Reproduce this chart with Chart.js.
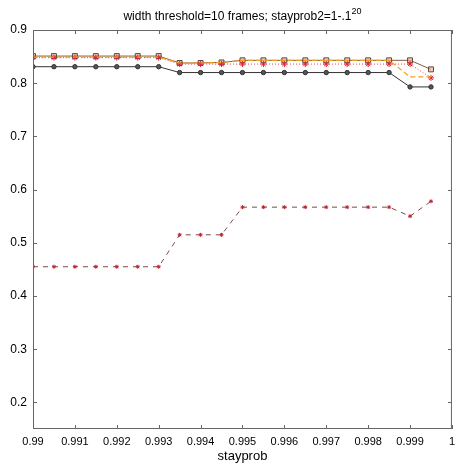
<!DOCTYPE html>
<html>
<head>
<meta charset="utf-8">
<script src="https://cdn.jsdelivr.net/npm/chart.js@4.4.0/dist/chart.umd.min.js"></script>
<style>
  html, body { margin: 0; padding: 0; background: #fff; }
  #wrap { width: 461px; height: 466px; }
</style>
</head>
<body>
<div id="wrap"><canvas id="myChart" width="461" height="466"></canvas></div>
<script>
// stayprob values (x)
var stayprob = [0.99, 0.9905, 0.991, 0.9915, 0.992, 0.9925, 0.993, 0.9935, 0.994, 0.9945,
  0.995, 0.9955, 0.996, 0.9965, 0.997, 0.9975, 0.998, 0.9985, 0.999, 0.9995];

// series
var circSeries = [0.831, 0.831, 0.831, 0.831, 0.831, 0.831, 0.831, 0.82, 0.82, 0.82,
  0.82, 0.82, 0.82, 0.82, 0.82, 0.82, 0.82, 0.82, 0.793, 0.793];
var squareSeries = [0.851, 0.851, 0.851, 0.851, 0.851, 0.851, 0.851, 0.838, 0.838, 0.839,
  0.843, 0.843, 0.843, 0.843, 0.843, 0.843, 0.843, 0.843, 0.843, 0.826];
var orangeSeries = [0.849, 0.849, 0.849, 0.849, 0.849, 0.849, 0.849, 0.838, 0.838, 0.839,
  0.843, 0.843, 0.843, 0.843, 0.843, 0.843, 0.843, 0.843, 0.812, 0.812];
var redSeries = [0.848, 0.848, 0.848, 0.848, 0.848, 0.848, 0.848, 0.836, 0.836, 0.836,
  0.836, 0.836, 0.836, 0.836, 0.836, 0.836, 0.836, 0.836, 0.836, 0.81];
var lowSeries = [0.455, 0.455, 0.455, 0.455, 0.455, 0.455, 0.455, 0.515, 0.515, 0.515,
  0.567, 0.567, 0.567, 0.567, 0.567, 0.567, 0.567, 0.567, 0.55, 0.578];

// tick labels
var xTicks = [0.99, 0.991, 0.992, 0.993, 0.994, 0.995, 0.996, 0.997, 0.998, 0.999, 1];
var yTicks = [0.2, 0.3, 0.4, 0.5, 0.6, 0.7, 0.8, 0.9];

var FONT = "'Liberation Sans Narrow', 'Liberation Sans', Arial, sans-serif";

function pts(ys) {
  return stayprob.map(function (x, i) { return { x: x, y: ys[i] }; });
}

// box round the plot with inward ticks, and the title
var boxPlugin = {
  id: "box",
  afterDraw: function (chart) {
    var ctx = chart.ctx;
    var a = chart.chartArea;
    var xs = chart.scales.x;
    var ys = chart.scales.y;
    ctx.save();
    ctx.strokeStyle = "#666";
    ctx.lineWidth = 1;
    ctx.strokeRect(a.left + 0.5, a.top + 0.5, a.right - a.left - 1, a.bottom - a.top - 1);
    ctx.beginPath();
    xTicks.forEach(function (v) {
      var px = Math.round(xs.getPixelForValue(v)) + 0.5;
      ctx.moveTo(px, a.bottom); ctx.lineTo(px, a.bottom - 4);
      ctx.moveTo(px, a.top); ctx.lineTo(px, a.top + 4);
    });
    yTicks.forEach(function (v) {
      var py = Math.round(ys.getPixelForValue(v)) + 0.5;
      ctx.moveTo(a.left, py); ctx.lineTo(a.left + 4, py);
      ctx.moveTo(a.right, py); ctx.lineTo(a.right - 4, py);
    });
    ctx.stroke();
    // title
    ctx.fillStyle = "#000";
    ctx.textBaseline = "alphabetic";
    ctx.textAlign = "left";
    var t = "width threshold=10 frames; stayprob2=1-.1";
    ctx.font = "12px " + FONT;
    var w = ctx.measureText(t).width;
    ctx.font = "9px " + FONT;
    var w2 = ctx.measureText("20").width;
    var cx = (a.left + a.right) / 2;
    var x0 = cx - (w + w2) / 2;
    ctx.font = "12px " + FONT;
    ctx.fillText(t, x0, 20);
    ctx.font = "9px " + FONT;
    ctx.fillText("20", x0 + w, 14);
    ctx.restore();
  }
};

var ctx = document.getElementById("myChart").getContext("2d");
new Chart(ctx, {
  type: "line",
  data: {
    datasets: [
      {
        label: "low",
        data: pts(lowSeries),
        borderColor: "#7a4a4a",
        borderWidth: 1,
        borderDash: [5, 5],
        pointStyle: "star",
        pointRadius: 2,
        pointBorderColor: "#c0202a",
        pointBackgroundColor: "#c0202a",
        pointBorderWidth: 1
      },
      {
        label: "orange",
        data: pts(orangeSeries),
        borderColor: "#f0a020",
        borderWidth: 1.2,
        borderDash: [5, 3],
        pointRadius: 0
      },
      {
        label: "red",
        data: pts(redSeries),
        borderColor: "#f04050",
        borderWidth: 1,
        borderDash: [1, 2],
        pointStyle: "star",
        pointRadius: 3,
        pointBorderColor: "#e02030",
        pointBorderWidth: 1
      },
      {
        label: "circles",
        data: pts(circSeries),
        borderColor: "#333",
        borderWidth: 1,
        pointStyle: "circle",
        pointRadius: 2.2,
        pointBorderColor: "#333",
        pointBackgroundColor: "#555"
      },
      {
        label: "squares",
        data: pts(squareSeries),
        borderColor: "#8a5a3a",
        borderWidth: 1,
        pointStyle: "rect",
        pointRadius: 3.5,
        pointBorderColor: "#5a4a40",
        pointBackgroundColor: "rgba(245,170,140,0.6)",
        pointBorderWidth: 1
      }
    ]
  },
  options: {
    responsive: false,
    animation: false,
    layout: { padding: { top: 30, right: 6, left: 0, bottom: 0 } },
    plugins: { legend: { display: false }, tooltip: { enabled: false } },
    scales: {
      x: {
        type: "linear",
        min: 0.99,
        max: 1,
        afterBuildTicks: function (s) { s.ticks = xTicks.map(function (v) { return { value: v }; }); },
        afterFit: function (s) { s.height = 37; },
        grid: { display: false, drawTicks: false },
        border: { display: false },
        ticks: {
          color: "#000",
          padding: 6,
          maxRotation: 0,
          font: { family: FONT, size: 11 },
          callback: function (v) { return String(Number(v.toFixed(3))); }
        },
        title: {
          display: true,
          text: "stayprob",
          color: "#000",
          padding: { top: 0, bottom: 2 },
          font: { family: FONT, size: 13 }
        }
      },
      y: {
        min: 0.15,
        max: 0.9,
        afterBuildTicks: function (s) { s.ticks = yTicks.map(function (v) { return { value: v }; }); },
        afterFit: function (s) { s.width = 33; },
        grid: { display: false, drawTicks: false },
        border: { display: false },
        ticks: {
          color: "#000",
          padding: 6,
          font: { family: FONT, size: 12 },
          callback: function (v) { return String(Number(v.toFixed(1))); }
        }
      }
    }
  },
  plugins: [boxPlugin]
});
</script>
</body>
</html>
